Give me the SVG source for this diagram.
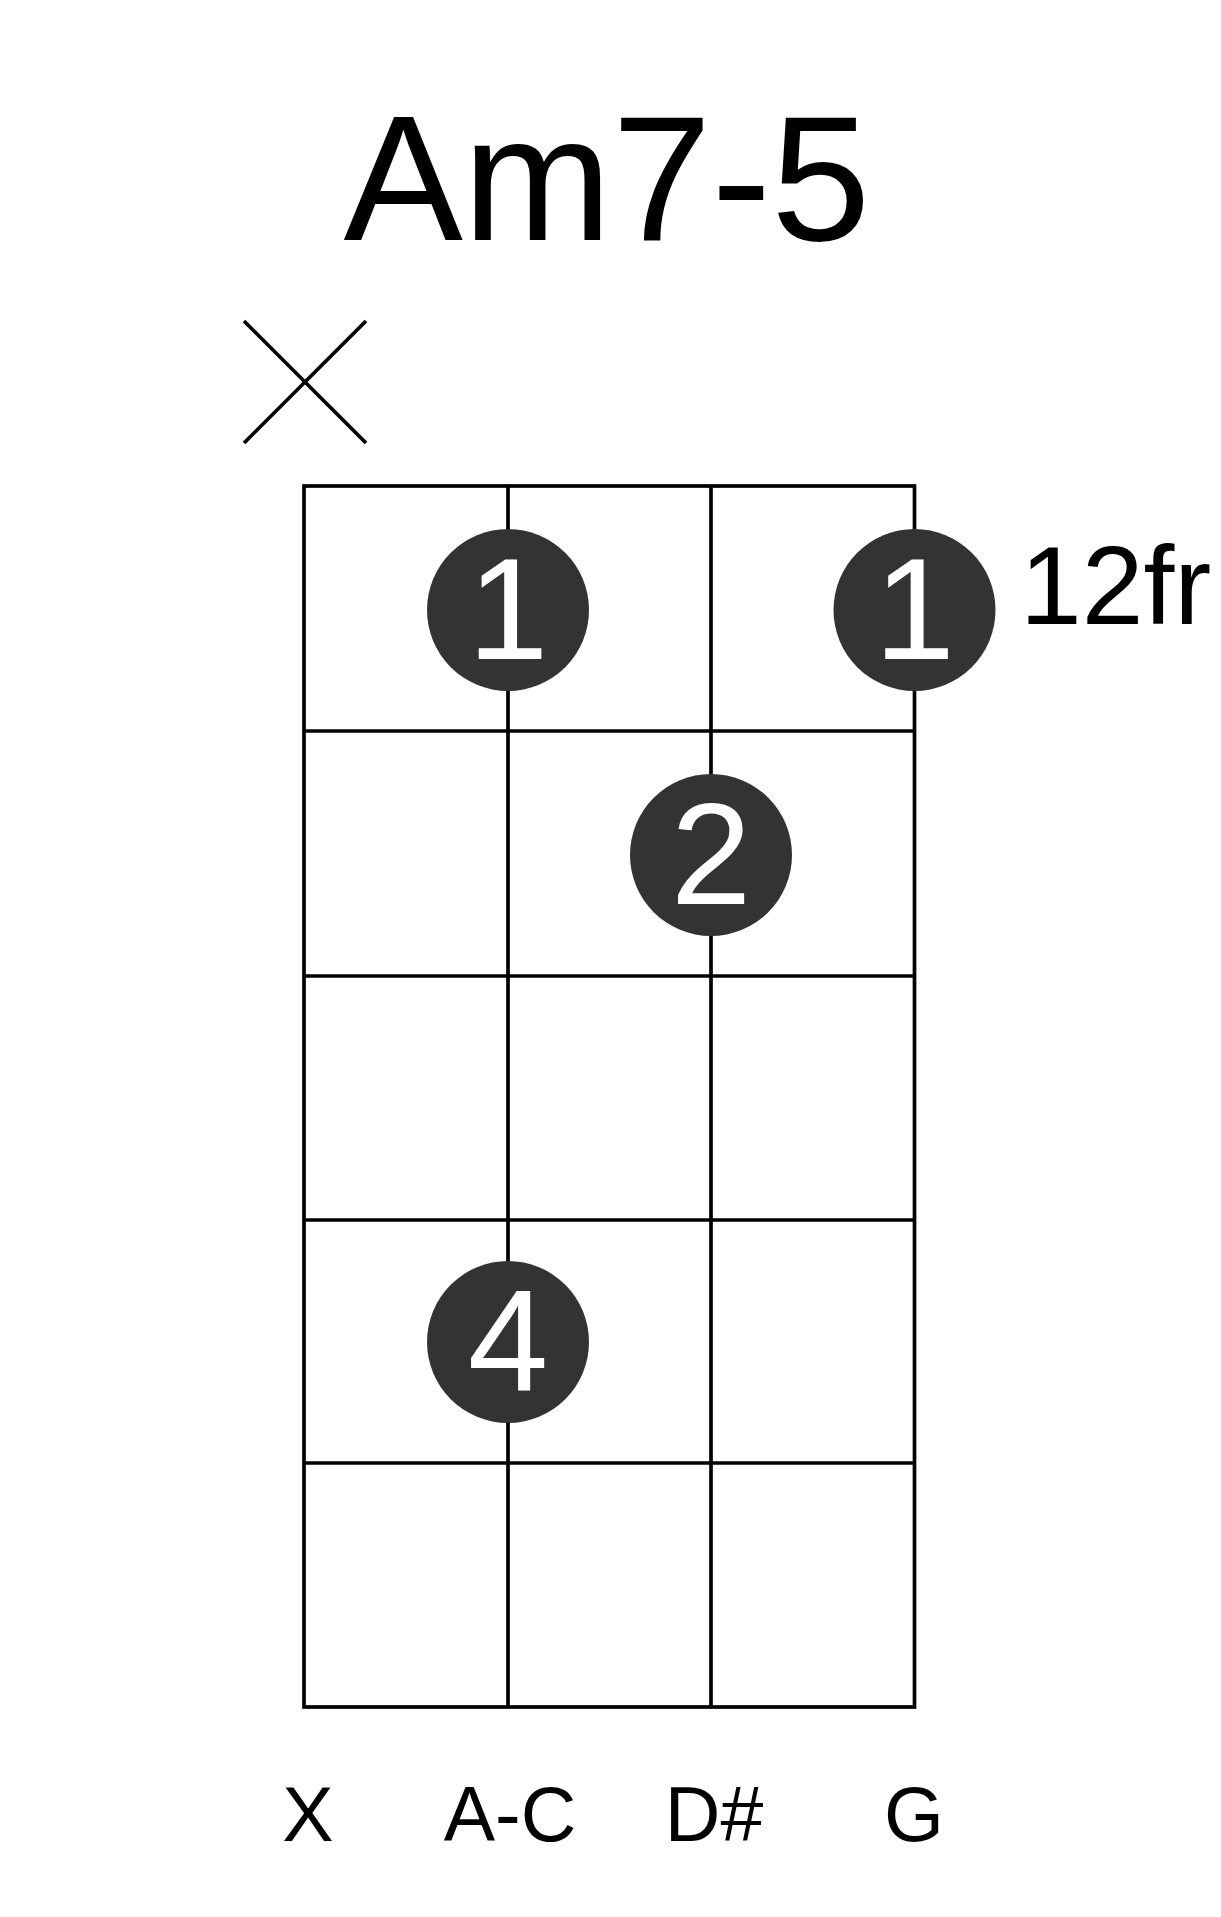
<svg xmlns="http://www.w3.org/2000/svg" width="1221" height="1917" viewBox="0 0 1221 1917">
<style>
.ln{stroke:#000;stroke-width:3.7;fill:none}
.dot{fill:#333}
.fn{font-family:"Liberation Sans",Arial,sans-serif;fill:#fff;font-size:145px;text-anchor:middle}
.t{font-family:"Liberation Sans",Arial,sans-serif;fill:#000}
</style>
<rect width="1221" height="1917" fill="#fff"/>
<text id="title" class="t" x="607" y="240" font-size="179" text-anchor="middle">Am7-5</text>
<g id="mute"><line class="ln" x1="244" y1="321" x2="366" y2="443"/><line class="ln" x1="366" y1="321" x2="244" y2="443"/></g>
<g id="grid">
<rect class="ln" x="304" y="486" width="610.5" height="1221"/>
<line class="ln" x1="508" y1="486" x2="508" y2="1707"/>
<line class="ln" x1="711" y1="486" x2="711" y2="1707"/>
<line class="ln" x1="304" y1="731" x2="914.5" y2="731"/>
<line class="ln" x1="304" y1="976" x2="914.5" y2="976"/>
<line class="ln" x1="304" y1="1220" x2="914.5" y2="1220"/>
<line class="ln" x1="304" y1="1463" x2="914.5" y2="1463"/>
</g>
<g id="d1"><circle class="dot" cx="508" cy="610" r="81"/><text class="fn" x="508" y="659">1</text></g>
<g id="d2"><circle class="dot" cx="914.5" cy="610" r="81"/><text class="fn" x="914.5" y="659">1</text></g>
<g id="d3"><circle class="dot" cx="711" cy="855" r="81"/><text class="fn" x="711" y="904">2</text></g>
<g id="d4"><circle class="dot" cx="508" cy="1342" r="81"/><text class="fn" x="508" y="1391">4</text></g>
<text id="fret" class="t" x="1020" y="624" font-size="111">12fr</text>
<g id="labels" class="t" font-size="77" text-anchor="middle">
<text x="308" y="1841">X</text>
<text x="510" y="1841">A-C</text>
<text x="714" y="1841">D#</text>
<text x="914" y="1841">G</text>
</g>
</svg>
